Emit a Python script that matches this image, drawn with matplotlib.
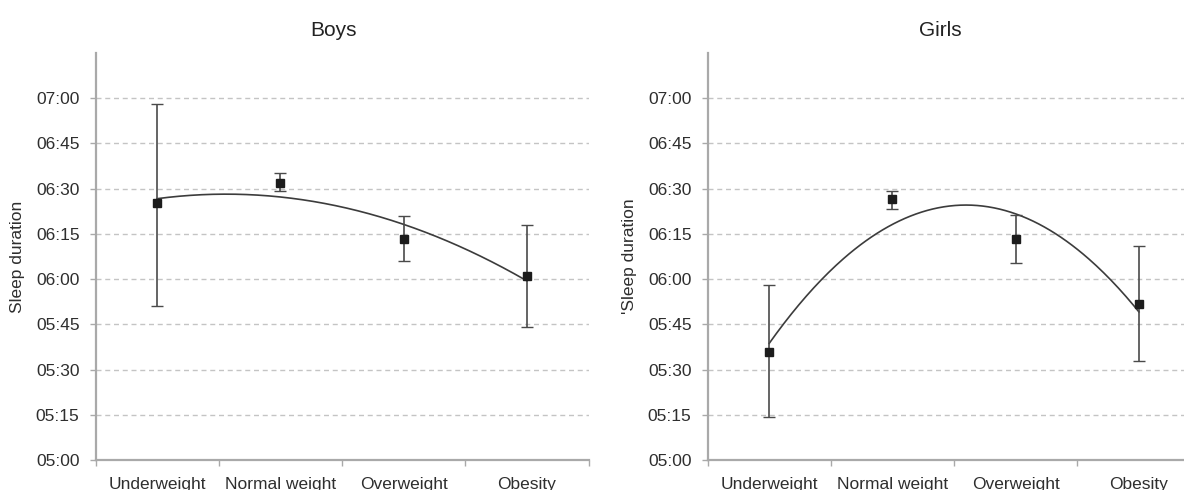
"""
Sleep duration by weight status (boys / girls), mean with error bars and
a 2nd-order polynomial trend line.
"""

import matplotlib
matplotlib.use("Agg")
import matplotlib.pyplot as plt
import numpy as np

plt.rcParams.update({"font.family": "Liberation Sans", "font.size": 12.5})

# ── Data (minutes after midnight) ────────────────────────────────────────────

categorias = ["Underweight", "Normal weight", "Overweight", "Obesity"]

boys_media = [385.1, 392.0, 373.4, 361.0]
boys_inf   = [351.2, 389.1, 366.0, 344.1]
boys_sup   = [418.1, 395.1, 380.8, 377.9]

girls_media = [335.9, 386.5, 373.3, 351.9]
girls_inf   = [314.2, 383.2, 365.2, 332.9]
girls_sup   = [358.1, 389.1, 381.2, 371.0]

yticks_min = [300, 315, 330, 345, 360, 375, 390, 405, 420]

COLOR_SPINE = "#a9a9a9"
COLOR_GRID  = "#c4c4c4"
COLOR_TEXT  = "#2e2e2e"


def fmt_hhmm(minutos: float) -> str:
    return f"{int(minutos) // 60:02d}:{int(minutos) % 60:02d}"


def plot_panel(ax, titulo, ylabel, media, inf, sup, titulo_x, label_x):
    x = np.arange(len(categorias))
    media = np.asarray(media)
    err = [media - np.asarray(inf), np.asarray(sup) - media]

    # gridlines first so the marks sit on top
    for t in yticks_min[1:]:
        ax.axhline(t, color=COLOR_GRID, linewidth=1.0,
                   linestyle=(0, (3.6, 2.7)), zorder=0)

    # polynomial trend (order 2) through the means
    coef = np.polyfit(x, media, 2)
    xs = np.linspace(x[0], x[-1], 200)
    ax.plot(xs, np.polyval(coef, xs), color="#3c3c3c", linewidth=1.2, zorder=2)

    ax.errorbar(x, media, yerr=err, fmt="s", color="#1c1c1c",
                ecolor="#4a4a4a", elinewidth=1.2, capsize=4, capthick=1.0,
                markersize=6, zorder=3)

    ax.set_xlim(-0.5, len(categorias) - 0.5)
    ax.set_ylim(300, 435)

    ax.set_xticks(x)
    ax.set_xticklabels(categorias, color=COLOR_TEXT)
    ax.set_xticks(np.arange(len(categorias) + 1) - 0.5, minor=True)
    ax.tick_params(axis="x", which="major", length=0, pad=12)
    ax.tick_params(axis="x", which="minor", length=4.5, width=1.0,
                   color=COLOR_SPINE)

    ax.set_yticks(yticks_min)
    ax.set_yticklabels([fmt_hhmm(t) for t in yticks_min], color=COLOR_TEXT)
    ax.tick_params(axis="y", length=4.5, width=1.0, color=COLOR_SPINE, pad=7)

    for lado in ("top", "right"):
        ax.spines[lado].set_visible(False)
    for lado in ("left", "bottom"):
        ax.spines[lado].set_color(COLOR_SPINE)
        ax.spines[lado].set_linewidth(1.6)

    ax.set_title(titulo, x=titulo_x, pad=12, color="#222222")
    ax.set_ylabel(ylabel, color=COLOR_TEXT)
    ax.yaxis.set_label_coords(label_x, 0.5)


fig = plt.figure(figsize=(11.84, 4.90), dpi=100)
ax_b = fig.add_axes([0.0807, 0.0612, 0.4164, 0.8306])
ax_g = fig.add_axes([0.5976, 0.0612, 0.4164, 0.8306])

plot_panel(ax_b, "Boys", "Sleep duration", boys_media, boys_inf, boys_sup,
           titulo_x=0.482, label_x=-0.143)
plot_panel(ax_g, "Girls", "'Sleep duration", girls_media, girls_inf, girls_sup,
           titulo_x=0.472, label_x=-0.143)

fig.savefig("out.png", dpi=100)
plt.close(fig)
